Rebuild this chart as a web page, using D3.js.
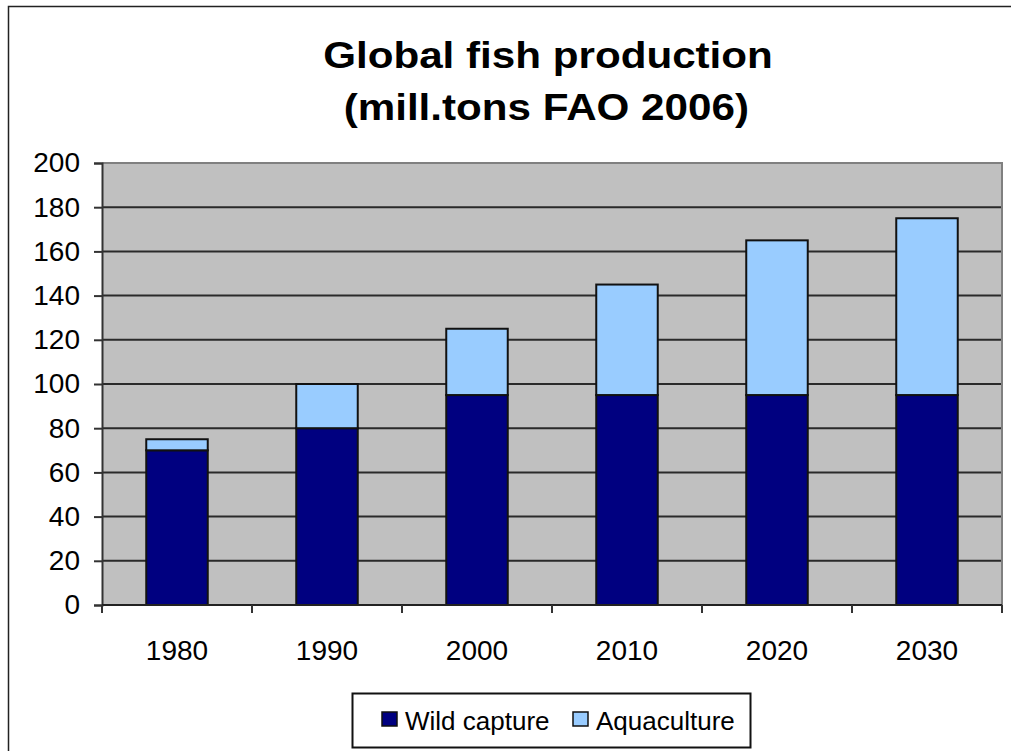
<!DOCTYPE html>
<html>
<head>
<meta charset="utf-8">
<script src="https://cdn.jsdelivr.net/npm/d3@7"></script>
<style>
  html, body { margin: 0; padding: 0; background: #fff; }
  svg { display: block; }
  text { font-family: "Liberation Sans", Arial, sans-serif; fill: #000; }
</style>
</head>
<body>
<svg id="chart" width="1011" height="751"></svg>
<script>
// Global fish production, million tonnes (FAO 2006)
const years = ["1980", "1990", "2000", "2010", "2020", "2030"];
const wildCapture = [70, 80, 95, 95, 95, 95];
const aquaculture = [5, 20, 30, 50, 70, 80];
const yTicks = [0, 20, 40, 60, 80, 100, 120, 140, 160, 180, 200];
const seriesNames = ["Wild capture", "Aquaculture"];
const seriesColors = ["#000080", "#99ccff"];

const svg = d3.select("#chart");

// outer chart frame
svg.append("rect")
  .attr("x", 8.5).attr("y", 6.5)
  .attr("width", 1020).attr("height", 760)
  .attr("fill", "#fff").attr("stroke", "#222").attr("stroke-width", 1.5);

// title (slightly widened lettering)
const titleG = svg.append("g").attr("transform", "translate(548,0) scale(1.14,1)");
const title = titleG.append("text")
  .attr("text-anchor", "middle")
  .style("font-size", "37px").style("font-weight", "bold");
title.append("tspan").attr("x", 0).attr("y", 68).text("Global fish production");
title.append("tspan").attr("x", -1.5).attr("y", 120).text("(mill.tons FAO 2006)");

const plot = { left: 102, right: 1002, top: 163, bottom: 605 };

const x = d3.scaleBand()
  .domain(years)
  .range([plot.left, plot.right])
  .paddingInner(0.59).paddingOuter(0.295);

const y = d3.scaleLinear()
  .domain([0, 200])
  .range([plot.bottom, plot.top]);

// plot background
svg.append("rect")
  .attr("x", plot.left).attr("y", plot.top)
  .attr("width", plot.right - plot.left).attr("height", plot.bottom - plot.top)
  .attr("fill", "#c0c0c0");

// horizontal gridlines
svg.append("g")
  .selectAll("line")
  .data(yTicks.filter(d => d > 0 && d < 200))
  .join("line")
  .attr("x1", plot.left).attr("x2", plot.right)
  .attr("y1", d => y(d)).attr("y2", d => y(d))
  .attr("stroke", "#2a2a2a").attr("stroke-width", 2);

// plot frame (top and right)
svg.append("path")
  .attr("d", `M${plot.left},${plot.top}H${plot.right}V${plot.bottom}`)
  .attr("fill", "none").attr("stroke", "#808080").attr("stroke-width", 2);

// stacked bars
const stackData = years.map((yr, i) => ({ year: yr, wild: wildCapture[i], aqua: aquaculture[i] }));
const stacked = d3.stack().keys(["wild", "aqua"])(stackData);

svg.append("g")
  .selectAll("g")
  .data(stacked)
  .join("g")
  .attr("fill", (d, i) => seriesColors[i])
  .selectAll("rect")
  .data(d => d)
  .join("rect")
  .attr("x", d => x(d.data.year))
  .attr("width", x.bandwidth())
  .attr("y", d => y(d[1]))
  .attr("height", d => y(d[0]) - y(d[1]))
  .attr("stroke", "#111").attr("stroke-width", 2);

// y axis
const yAxis = d3.axisLeft(y)
  .tickValues(yTicks)
  .tickSize(8)
  .tickPadding(14)
  .tickFormat(d3.format("d"));

const gy = svg.append("g")
  .attr("transform", `translate(${plot.left},0)`)
  .call(yAxis);
gy.select(".domain").attr("stroke", "#333").attr("stroke-width", 2);
gy.selectAll(".tick line").attr("stroke", "#333").attr("stroke-width", 2);
gy.selectAll(".tick text").style("font-size", "28px")
  .style("font-family", "'Liberation Sans', Arial, sans-serif").attr("fill", "#000");

// x axis: ticks at category boundaries, labels centered in each band
const gx = svg.append("g")
  .attr("transform", `translate(0,${plot.bottom})`);
gx.append("line")
  .attr("x1", plot.left).attr("x2", plot.right)
  .attr("stroke", "#222").attr("stroke-width", 2);
const step = x.step();
const boundaries = d3.range(years.length + 1).map(i => plot.left + i * step);
gx.selectAll("line.tk")
  .data(boundaries)
  .join("line").attr("class", "tk")
  .attr("x1", d => d).attr("x2", d => d)
  .attr("y1", 0).attr("y2", 8)
  .attr("stroke", "#333").attr("stroke-width", 2);
gx.selectAll("text")
  .data(years)
  .join("text")
  .attr("x", d => x(d) + x.bandwidth() / 2)
  .attr("y", 55)
  .attr("text-anchor", "middle")
  .style("font-size", "28px")
  .text(d => d);

// legend
const legend = svg.append("g");
legend.append("rect")
  .attr("x", 352.5).attr("y", 693.5)
  .attr("width", 398).attr("height", 54)
  .attr("fill", "#fff").attr("stroke", "#111").attr("stroke-width", 2);
const legendX = [382, 573];
seriesNames.forEach((name, i) => {
  legend.append("rect")
    .attr("x", legendX[i]).attr("y", 712)
    .attr("width", 15).attr("height", 14)
    .attr("fill", seriesColors[i]).attr("stroke", "#111").attr("stroke-width", 1.5);
  legend.append("text")
    .attr("x", legendX[i] + 23).attr("y", 730)
    .style("font-size", "26px")
    .text(name);
});
</script>
</body>
</html>
